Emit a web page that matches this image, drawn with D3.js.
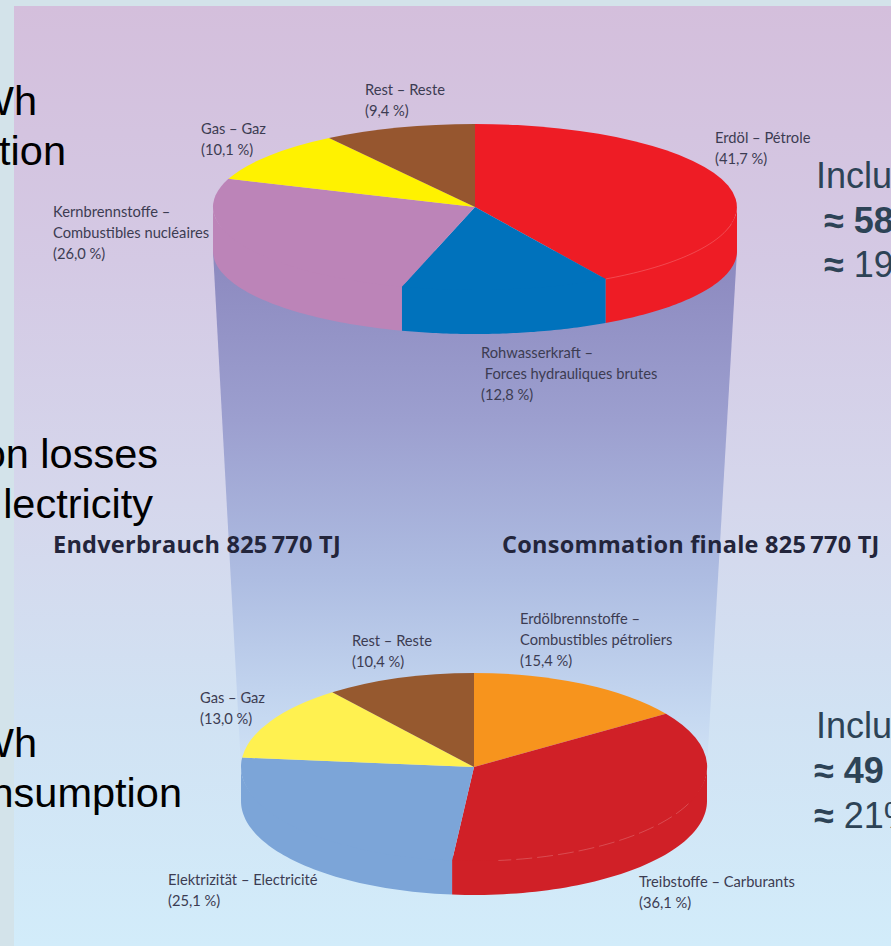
<!DOCTYPE html>
<html>
<head>
<meta charset="utf-8">
<script src="https://cdn.jsdelivr.net/npm/d3@7"></script>
<style>
  html, body { margin: 0; padding: 0; overflow: hidden; background: #d3e3ea; }
</style>
</head>
<body>
<div id="art"></div>
<script>
// primary energy (top pie)
const topNames = ["Erdöl", "Rohwasserkraft", "Kernbrennstoffe", "Gas", "Rest"];
const topShares = [41.7, 12.8, 26.0, 10.1, 9.4];
const topColours = ["#ee1c25", "#0072bc", "#bc84b8", "#fff200", "#96562f"];
const topLabels = [
  ["Erdöl – Pétrole", "(41,7 %)"],
  ["Rohwasserkraft –", " Forces hydrauliques brutes", "(12,8 %)"],
  ["Kernbrennstoffe –", "Combustibles nucléaires", "(26,0 %)"],
  ["Gas – Gaz", "(10,1 %)"],
  ["Rest – Reste", "(9,4 %)"]
];
const topLabelPos = [[715, 143], [481, 358], [53, 217], [201, 134], [365, 95]];

// final consumption (bottom pie)
const bottomNames = ["Erdölbrennstoffe", "Treibstoffe", "Elektrizität", "Gas", "Rest"];
const bottomShares = [15.4, 36.1, 25.1, 13.0, 10.4];
const bottomColours = ["#f7941d", "#d02027", "#7ca5d8", "#fff150", "#96592f"];
const bottomLabels = [
  ["Erdölbrennstoffe –", "Combustibles pétroliers", "(15,4 %)"],
  ["Treibstoffe – Carburants", "(36,1 %)"],
  ["Elektrizität – Electricité", "(25,1 %)"],
  ["Gas – Gaz", "(13,0 %)"],
  ["Rest – Reste", "(10,4 %)"]
];
const bottomLabelPos = [[520, 624], [639, 887], [168, 885], [200, 703], [352, 646]];

const headings = ["Endverbrauch 825\u2009770 TJ", "Consommation finale 825\u2009770 TJ"];

// big black captions, they run off the left edge
const leftNotes = ["Wh", "tion", "on losses", "lectricity", "Wh", "nsumption"];
const leftNoteEnds = [37, 66, 158, 153, 37, 182];
const leftNoteBase = [115, 165, 468, 518, 757, 807];

// big slate captions, they run off the right edge
const rightNotes = [
  { mark: "", text: "Inclu", bold: false },
  { mark: "≈ ", text: "58", bold: true },
  { mark: "≈ ", text: "19", bold: false },
  { mark: "", text: "Inclu", bold: false },
  { mark: "≈ ", text: "49", bold: true },
  { mark: "≈ ", text: "21%", bold: false }
];
const rightNoteX = [816, 824, 824, 816, 814, 814];
const rightNoteBase = [188, 233, 277, 738, 783, 828];

const width = 891;
const height = 946;

const topPie = { cx: 475, cy: 207, rx: 262, ry: 83, depth: 44, seam: [102, 150], dash: null };
const bottomPie = { cx: 474, cy: 767, rx: 233, ry: 94, depth: 34, seam: [113, 174], dash: "16 5" };

function ellipsePoint(p, a, drop) {
  return [p.cx + p.rx * Math.sin(a), p.cy - p.ry * Math.cos(a) + (drop || 0)];
}

function drawPie(svg, p, shares, colours) {
  const slices = d3.pie().sort(null)(shares);
  const g = svg.append("g");

  // side wall, only the front half of the rim can be seen
  // it starts a bit under the lid so no light line shows between them
  const wall = d3.area()
    .x(a => ellipsePoint(p, a)[0])
    .y0(a => p.cy - p.ry * 0.96 * Math.cos(a))
    .y1(a => ellipsePoint(p, a, p.depth)[1]);

  slices.forEach((s, i) => {
    const from = Math.max(s.startAngle, Math.PI / 2);
    const to = Math.min(s.endAngle, Math.PI * 1.5);
    if (to <= from) return;
    const angles = d3.range(0, 61).map(k => from + (to - from) * k / 60);
    g.append("path")
      .attr("d", wall(angles))
      .style("fill", colours[i]);
  });

  // lid, unit circle squashed to the ellipse
  const arc = d3.arc().innerRadius(0).outerRadius(1);
  g.append("g")
    .attr("transform", `translate(${p.cx},${p.cy}) scale(${p.rx},${p.ry})`)
    .selectAll("path")
    .data(slices)
    .enter()
    .append("path")
    .attr("d", arc)
    .style("fill", (d, i) => colours[i]);

  // faint seam on the red slice only
  const from = p.seam[0] * Math.PI / 180;
  const to = p.seam[1] * Math.PI / 180;
  const seam = d3.range(0, 41).map(k => ellipsePoint(p, from + (to - from) * k / 40));
  g.append("path")
    .attr("d", d3.line()(seam))
    .style("fill", "none")
    .style("stroke", "#fff")
    .style("stroke-opacity", 0.2)
    .style("stroke-width", 1)
    .style("stroke-dasharray", p.dash);
}

function drawLabels(svg, labels, pos) {
  labels.forEach((lines, i) => {
    const t = svg.append("text")
      .style("font-family", "Lato")
      .style("font-size", "14.7px")
      .style("fill", "#3c3c52");
    lines.forEach((line, k) => {
      t.append("tspan")
        .attr("x", pos[i][0])
        .attr("y", pos[i][1] + k * 21)
        .style("white-space", "pre")
        .text(line);
    });
  });
}

function art() {
  const svg = d3.select("#art")
    .append("svg")
    .attr("width", width)
    .attr("height", height)
    .style("display", "block");

  const defs = svg.append("defs");

  const panelFill = defs.append("linearGradient")
    .attr("id", "panelFill")
    .attr("x1", 0).attr("y1", 0).attr("x2", 0).attr("y2", 1);
  [[0, "#d4bfdc"], [0.27, "#d4c9e4"], [0.53, "#d5d7ec"], [0.75, "#d1e2f3"], [1, "#d2ecfa"]]
    .forEach(d => panelFill.append("stop").attr("offset", d[0]).attr("stop-color", d[1]));

  const funnelFill = defs.append("linearGradient")
    .attr("id", "funnelFill")
    .attr("gradientUnits", "userSpaceOnUse")
    .attr("x1", 0).attr("y1", 255).attr("x2", 0).attr("y2", 770);
  [[0, "#8c89bf"], [0.32, "#9c9fcf"], [0.63, "#aebde2"], [0.9, "#c6d9f1"], [1, "#d1e2f4"]]
    .forEach(d => funnelFill.append("stop").attr("offset", d[0]).attr("stop-color", d[1]));

  // panel sits a little in from the top left corner
  svg.append("rect")
    .attr("x", 14).attr("y", 6)
    .attr("width", width - 14).attr("height", height - 6)
    .style("fill", "url(#panelFill)");

  // funnel joins the rims of the two pies
  const funnel = [
    [topPie.cx - topPie.rx, topPie.cy + topPie.depth],
    [topPie.cx + topPie.rx, topPie.cy + topPie.depth],
    [bottomPie.cx + bottomPie.rx, bottomPie.cy],
    [bottomPie.cx - bottomPie.rx, bottomPie.cy]
  ];
  svg.append("path")
    .attr("d", d3.line().curve(d3.curveLinearClosed)(funnel))
    .style("fill", "url(#funnelFill)");

  drawPie(svg, topPie, topShares, topColours);
  drawPie(svg, bottomPie, bottomShares, bottomColours);

  drawLabels(svg, topLabels, topLabelPos);
  drawLabels(svg, bottomLabels, bottomLabelPos);

  svg.selectAll("text.heading")
    .data(headings)
    .enter()
    .append("text")
    .attr("class", "heading")
    .attr("x", (d, i) => i === 0 ? 53 : 502)
    .attr("y", 553)
    .style("font-family", "'Open Sans'")
    .style("font-weight", 700)
    .style("font-size", "23.5px")
    .style("letter-spacing", "0.25px")
    .style("fill", "#23253b")
    .text(d => d);

  svg.selectAll("text.left-note")
    .data(leftNotes)
    .enter()
    .append("text")
    .attr("class", "left-note")
    .attr("x", (d, i) => leftNoteEnds[i])
    .attr("y", (d, i) => leftNoteBase[i])
    .attr("text-anchor", "end")
    .style("font-family", "'Liberation Sans'")
    .style("font-size", "41.5px")
    .style("fill", "#000")
    .text(d => d);

  const notes = svg.selectAll("text.right-note")
    .data(rightNotes)
    .enter()
    .append("text")
    .attr("class", "right-note")
    .attr("x", (d, i) => rightNoteX[i])
    .attr("y", (d, i) => rightNoteBase[i])
    .style("font-family", "'Liberation Sans'")
    .style("font-size", "36px")
    .style("fill", "#2d4356");
  notes.append("tspan")
    .style("font-weight", 700)
    .text(d => d.mark);
  notes.append("tspan")
    .style("font-weight", d => d.bold ? 700 : 400)
    .text(d => d.text);
}

window.onload = function () {
  art();
};
</script>
</body>
</html>
